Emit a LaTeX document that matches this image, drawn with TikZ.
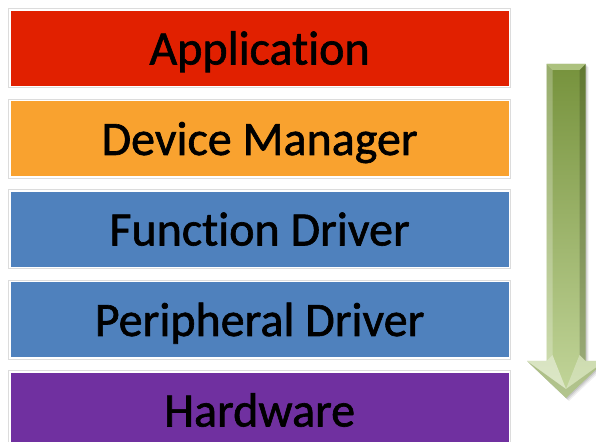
\documentclass[tikz,border=0pt]{standalone}
\usepackage{fontspec}
\setmainfont{Carlito}
\newfontfamily\layerfont{Carlito}[FakeBold=1.3, Ligatures={NoCommon}]
\usetikzlibrary{positioning,calc}
\definecolor{appred}{HTML}{E12000}
\definecolor{devorange}{HTML}{F9A22F}
\definecolor{drvblue}{HTML}{4F81BD}
\definecolor{hwpurple}{HTML}{7030A0}
\definecolor{framegray}{HTML}{DCDCDC}
\definecolor{arrowdark}{HTML}{76923C}
\definecolor{arrowlight}{HTML}{C3D69B}
\tikzset{x=1pt,y=1pt}
\tikzset{layer/.style={minimum width=499.6pt, minimum height=76.6pt,
    inner sep=0pt, outer sep=0pt, line width=1.6pt, draw=white,
    preaction={draw=framegray, line width=3.6pt},
    text height=32.6pt, text depth=0pt,
    font=\layerfont\fontsize{48}{48}\selectfont, text=black}}

\begin{document}
\begin{tikzpicture}
  \useasboundingbox[fill=white] (0,0) rectangle (596,441);
  % stacked layers
  \node[layer, fill=appred] (app) at (259.6,392.8) {Application};
  \node[layer, fill=devorange, below=13.9pt of app] (dev) {Device Manager};
  \node[layer, fill=drvblue, below=13.9pt of dev] (func) {Function Driver};
  \node[layer, fill=drvblue, below=13.9pt of func] (peri) {Peripheral Driver};
  \node[layer, fill=hwpurple, below=13.9pt of peri] (hw) {Hardware};
  % downward arrow
  \begin{scope}
    \clip (0,0) rectangle (596,441);
    \foreach \s/\o in {3/0.06, 2/0.08, 1/0.10}
      \fill[black, opacity=\o, shift={(\s,-\s)}]
        (546.5,377) -- (585.5,377) -- (585.5,80) -- (605,80) -- (566,43)
        -- (527,80) -- (546.5,80) -- cycle;
    \shade[top color=arrowdark, bottom color=arrowlight]
      (546.5,377) -- (585.5,377) -- (585.5,80) -- (605,80) -- (566,43)
      -- (527,80) -- (546.5,80) -- cycle;
    % bevel highlights
    \fill[arrowlight, opacity=0.7]
      (546.5,377) -- (585.5,377) -- (579.5,371) -- (552.5,371) -- cycle;
    \fill[white, opacity=0.25]
      (546.5,377) -- (552.5,371) -- (552.5,86) -- (546.5,80) -- cycle;
    \fill[black, opacity=0.18]
      (585.5,377) -- (579.5,371) -- (579.5,86) -- (585.5,80) -- cycle;
    \fill[white, opacity=0.45]
      (527,80) -- (546.5,80) -- (552.5,86) -- (566,52) -- cycle;
    \fill[white, opacity=0.3]
      (605,80) -- (585.5,80) -- (579.5,86) -- (566,52) -- cycle;
    \fill[black, opacity=0.08]
      (527,80) -- (566,52) -- (605,80) -- (566,43) -- cycle;
  \end{scope}
\end{tikzpicture}
\end{document}
